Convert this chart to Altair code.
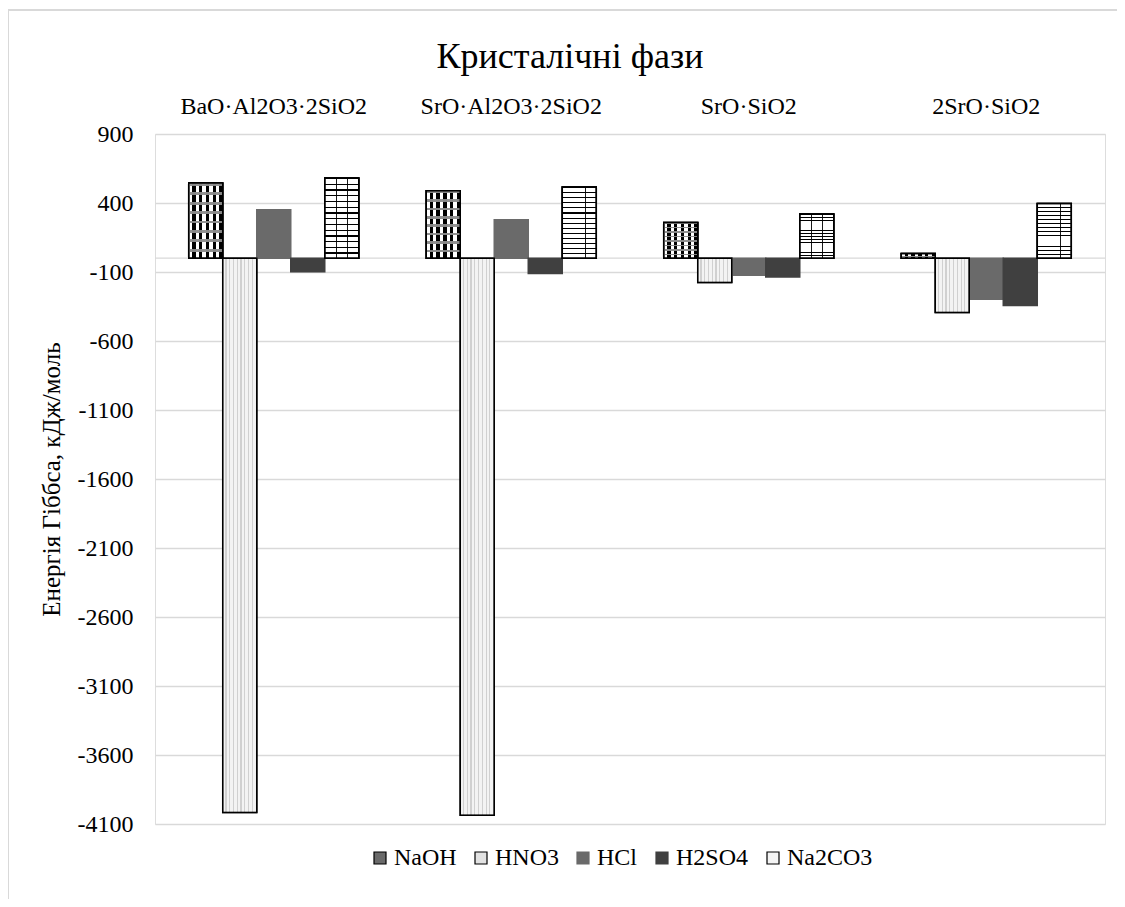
import altair as alt
import pandas as pd

# ---- data ----
phases = ["BaO·Al2O3·2SiO2", "SrO·Al2O3·2SiO2", "SrO·SiO2", "2SrO·SiO2"]
reagents = ["NaOH", "HNO3", "HCl", "H2SO4", "Na2CO3"]
naoh = [545, 489, 259, 34]
hno3 = [-4017, -4036, -176, -394]
hcl = [351, 278, -123, -297]
h2so4 = [-99, -111, -137, -343]
na2co3 = [581, 516, 320, 397]
y_ticks = list(range(-4100, 901, 500))
chart_title = "Кристалічні фази"
y_title = "Енергія Гіббса, кДж/моль"

rows = []
for r, vals in zip(reagents, [naoh, hno3, hcl, h2so4, na2co3]):
    for p, v in zip(phases, vals):
        rows.append({"phase": p, "reagent": r, "value": v})
df = pd.DataFrame(rows)

FONT = "Liberation Serif"
fills = ["#6a6a6a", "#e2e2e2", "#6a6a6a", "#404040", "#f4f4f4"]
strokes = ["#000000", "#000000", "#6a6a6a", "#404040", "#000000"]

x_enc = alt.X(
    "phase:N", sort=phases,
    scale=alt.Scale(domain=phases, paddingInner=0.284, paddingOuter=0.142),
    axis=alt.Axis(orient="top", title=None, labelAngle=0, ticks=False, domain=False,
                  labelPadding=16, labelFontSize=24, labelFont=FONT, labelColor="#000",
                  labelLimit=400),
)
y_enc = alt.Y(
    "value:Q",
    scale=alt.Scale(domain=[-4100, 900], nice=False, zero=False),
    axis=alt.Axis(values=y_ticks, labelExpr="'' + datum.value", title=y_title,
                  grid=True, gridColor="#d9d9d9", gridWidth=1.3, domain=False, ticks=False,
                  labelPadding=22, labelFontSize=24, labelFont=FONT, labelColor="#000",
                  titleFont=FONT, titleFontSize=25, titleFontWeight="normal",
                  titleColor="#000", titlePadding=13),
)
xoff = alt.XOffset("reagent:N", sort=reagents,
                   scale=alt.Scale(domain=reagents, paddingInner=0, paddingOuter=0))

leg = alt.Legend(orient="none", legendX=213, legendY=712, direction="horizontal",
                 title=None, symbolType="square", symbolSize=144, symbolStrokeWidth=1.2,
                 labelFont=FONT, labelFontSize=24, labelColor="#000",
                 labelOffset=2, columnPadding=12)

base = alt.Chart(df)

bars = base.mark_bar(strokeWidth=1.5).encode(
    x=x_enc, y=y_enc, xOffset=xoff,
    color=alt.Color("reagent:N", sort=reagents,
                    scale=alt.Scale(domain=reagents, range=fills), legend=leg),
    stroke=alt.Stroke("reagent:N", sort=reagents,
                      scale=alt.Scale(domain=reagents, range=strokes), legend=leg),
)


def stripes(n, on, off, frac, horizontal):
    stops = []
    for i in range(n):
        a = i / n
        b = (i + frac) / n
        c = (i + 1) / n
        stops += [alt.GradientStop(offset=a, color=on), alt.GradientStop(offset=b, color=on),
                  alt.GradientStop(offset=b, color=off), alt.GradientStop(offset=c, color=off)]
    if horizontal:
        return alt.LinearGradient(gradient="linear", x1=0, x2=0, y1=0, y2=1, stops=stops)
    return alt.LinearGradient(gradient="linear", x1=0, x2=1, y1=0, y2=0, stops=stops)


def overlay(name, fill, **kw):
    return base.transform_filter(alt.datum.reagent == name).mark_bar(
        fill=fill, stroke="black", strokeWidth=1.5, **kw
    ).encode(x=x_enc, y=y_enc, xOffset=xoff)


# NaOH: black columns on white with grey rows
naoh_cols = overlay("NaOH", stripes(5, "#ffffff", "#000000", 0.5, False))
naoh_rows = overlay("NaOH", stripes(8, "rgba(140,140,140,0.95)", "rgba(0,0,0,0)", 0.3, True))

# Na2CO3: brick-like lines
brick_h = overlay("Na2CO3", stripes(14, "#000000", "#ffffff", 0.22, True))
brick_v = overlay("Na2CO3", stripes(3, "rgba(0,0,0,0.9)", "rgba(0,0,0,0)", 0.05, False))

# HNO3: light cross-hatch impression
hatch = overlay("HNO3", stripes(9, "#ffffff", "#c4c4c4", 0.7, False), fillOpacity=0.6)

zero = alt.Chart(pd.DataFrame({"z": [0]})).mark_rule(color="#d9d9d9", strokeWidth=1.3).encode(
    y=alt.Y("z:Q")
)

frame = alt.Chart(pd.DataFrame({"a": [0]})).mark_rect(
    fillOpacity=0, stroke="#d9d9d9", strokeWidth=2
).encode(x=alt.value(-147), x2=alt.value(1100), y=alt.value(-124), y2=alt.value(900))

title = alt.Chart(pd.DataFrame({"t": [chart_title]})).mark_text(
    font=FONT, fontSize=36, color="#000", align="center", baseline="alphabetic"
).encode(text="t:N", x=alt.value(415), y=alt.value(-66))

chart = alt.layer(frame, zero, bars, naoh_cols, naoh_rows, hatch, brick_h, brick_v,
                  title).properties(
    width=950, height=690,
    autosize=alt.AutoSizeParams(type="none"),
    padding={"left": 147, "top": 126, "right": 12, "bottom": 75},
).configure_view(stroke=None).configure(background="white", font=FONT).configure_axis(
    labelFont=FONT, titleFont=FONT
).configure_legend(labelFont=FONT)

chart.save("out.html", embed_options={"renderer": "svg", "actions": False})
